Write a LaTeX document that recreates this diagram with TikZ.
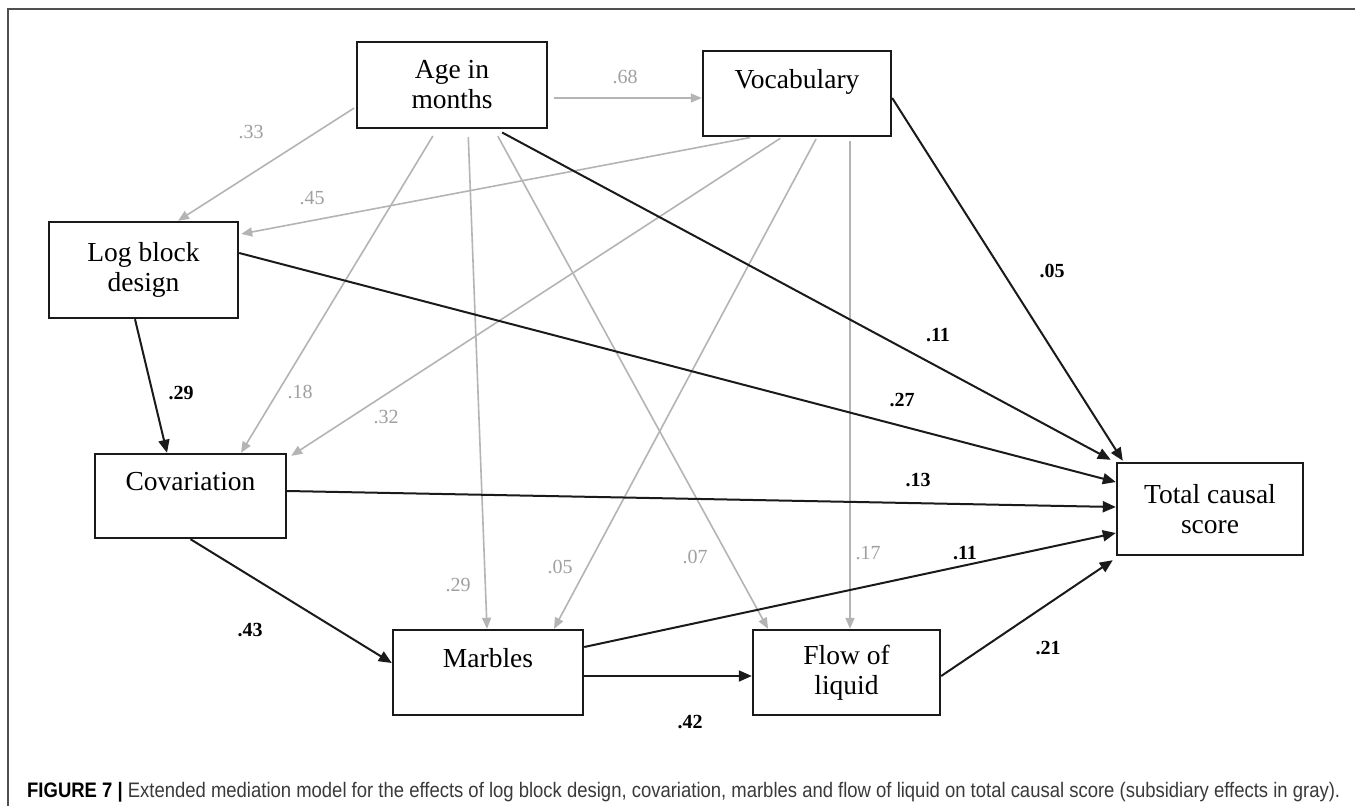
\documentclass[tikz,border=0pt]{standalone}
\usepackage{fontspec}
\setmainfont{Liberation Serif}
\newfontfamily\capfont{Liberation Sans}
\usetikzlibrary{arrows.meta}
\definecolor{boxc}{HTML}{1A1A1A}
\definecolor{gline}{HTML}{B4B4B4}
\definecolor{gtext}{HTML}{A0A0A0}
\definecolor{framec}{HTML}{505050}
\definecolor{capc}{HTML}{3A3A3A}
\begin{document}
\begin{tikzpicture}[x=1pt,y=-1pt,
  box/.style={draw=boxc, line width=2.4pt, align=center, inner sep=0pt,
    font=\fontsize{27.5}{30}\selectfont},
  garrow/.style={draw=gline, line width=1.6pt, -{Triangle[length=11pt,width=9pt]}},
  barrow/.style={draw=boxc, line width=2pt, -{Triangle[length=13pt,width=11pt]}},
  glab/.style={text=gtext, font=\fontsize{20}{22}\selectfont, inner sep=0pt},
  blab/.style={text=black, font=\fontsize{20}{22}\selectfont\bfseries, inner sep=0pt}]
\useasboundingbox (0,0) rectangle (1355,806);
\fill[white] (0,0) rectangle (1355,806);
% frame
\draw[framec, line width=2pt] (8,806) -- (8,9) -- (1355,9);
% boxes
\node[box, minimum width=190pt, minimum height=86pt] (age) at (452,85) {Age in\\months};
\node[box, minimum width=188pt, minimum height=85pt] (voc) at (797,93.5) {Vocabulary\\\phantom{x}};
\node[box, minimum width=189pt, minimum height=96pt] (log) at (143.5,270) {Log block\\design};
\node[box, minimum width=191pt, minimum height=84pt] (cov) at (190.5,496) {Covariation\\\phantom{x}};
\node[box, minimum width=190pt, minimum height=85pt] (mar) at (488,672.5) {Marbles\\\phantom{x}};
\node[box, minimum width=187pt, minimum height=85pt] (flow) at (846.5,672.5) {Flow of\\liquid};
\node[box, minimum width=186pt, minimum height=92pt] (tot) at (1210,509) {Total causal\\score};
% grey (subsidiary) paths
\draw[garrow, shorten <=6pt] ([yshift=-13pt]age.east) -- ([yshift=-4.5pt]voc.west);
\draw[garrow, shorten <=2pt] ([yshift=-22pt]age.west) -- ([xshift=34.5pt]log.north);
\draw[garrow, shorten <=8pt] ([xshift=-15pt]age.south) -- ([xshift=50.5pt]cov.north);
\draw[garrow, shorten <=8pt] ([xshift=16pt]age.south) -- ([xshift=-1pt]mar.north);
\draw[garrow, shorten <=8pt] ([xshift=42pt]age.south) -- ([xshift=-78.5pt]flow.north);
\draw[garrow, shorten <=2pt] ([xshift=-45pt]voc.south) -- ([xshift=2pt,yshift=36pt]log.east);
\draw[garrow, shorten <=2pt] ([xshift=-15pt]voc.south) -- ([xshift=4pt,yshift=-3pt]cov.north east);
\draw[garrow, shorten <=2pt] ([xshift=20pt]voc.south) -- ([xshift=66pt]mar.north);
\draw[garrow, shorten <=4pt] ([xshift=53pt]voc.south) -- ([xshift=3.5pt]flow.north);
% black (main) paths
\draw[barrow, shorten <=7pt] ([xshift=44pt]age.south) -- ([xshift=-5pt,yshift=2pt]tot.north west);
\draw[barrow] ([yshift=-4.5pt]voc.east) -- ([xshift=7pt,yshift=1pt]tot.north west);
\draw[barrow] ([xshift=-8.5pt]log.south) -- ([xshift=-23.5pt]cov.north);
\draw[barrow] ([yshift=17pt]log.east) -- ([yshift=27pt]tot.west);
\draw[barrow] ([yshift=5pt]cov.east) -- ([yshift=2pt]tot.west);
\draw[barrow] (cov.south) -- ([yshift=9.5pt]mar.west);
\draw[barrow] ([yshift=25.5pt]mar.east) -- ([yshift=-24pt]tot.west);
\draw[barrow] ([yshift=-3.5pt]mar.east) -- ([yshift=-3.5pt]flow.west);
\draw[barrow] ([yshift=-3.5pt]flow.east) -- ([xshift=-3pt,yshift=-4pt]tot.south west);
% labels
\node[glab] (l68) at (625,77) {.68};
\node[glab] (l33) at (251,132) {.33};
\node[glab] (l45) at (312,198) {.45};
\node[blab] (l29b) at (181,393) {.29};
\node[glab] (l18) at (300,392) {.18};
\node[glab] (l32) at (386,417) {.32};
\node[blab] (l05b) at (1052,271) {.05};
\node[blab] (l11a) at (938,335) {.11};
\node[blab] (l27) at (902,400) {.27};
\node[blab] (l13) at (918,480) {.13};
\node[blab] (l43) at (250,630) {.43};
\node[glab] (l29g) at (458,585) {.29};
\node[glab] (l05g) at (560,567) {.05};
\node[glab] (l07) at (695,557) {.07};
\node[glab] (l17) at (868,553) {.17};
\node[blab] (l11b) at (965,553) {.11};
\node[blab] (l42) at (690,722) {.42};
\node[blab] (l21) at (1048,648) {.21};
% caption
\node[anchor=base west, inner sep=0pt] (cap) at (27,797)
  {\resizebox{1313pt}{\height}{\capfont\fontsize{21}{24}\selectfont
   \textcolor{black}{\textbf{FIGURE 7 |}} \textcolor{capc}{Extended mediation model for the effects of log block design, covariation, marbles and flow of liquid on total causal score (subsidiary effects in gray).}}};
\end{tikzpicture}
\end{document}
